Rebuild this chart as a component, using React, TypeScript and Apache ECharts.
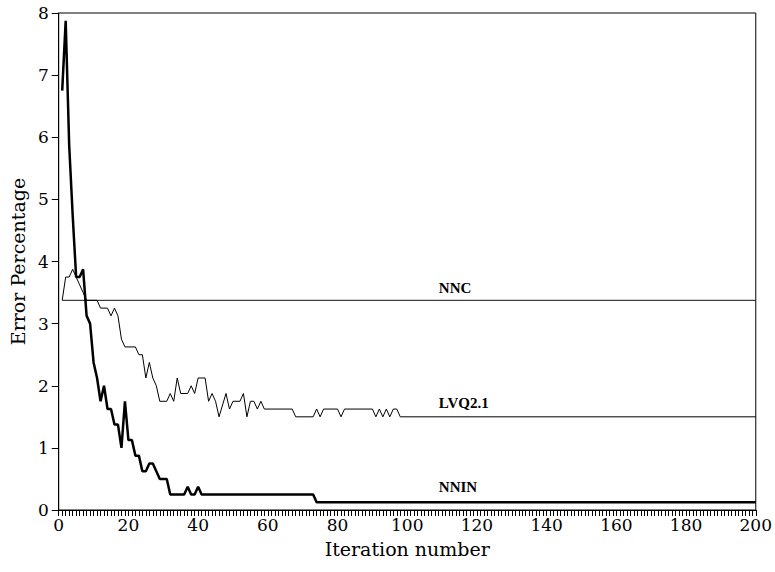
import React, { useEffect, useRef } from "react";
import * as echarts from "echarts";

// Vertices of each curve (iteration number, error percentage)
const nncIter = [1, 200];
const nncErr = [3.375, 3.375];

const lvqIter = [
  1, 2, 3, 4, 5, 6, 7, 8, 11, 12, 14, 15, 16, 17, 18, 19, 22, 23, 24, 25, 26, 27, 28, 29, 31, 32, 33, 34, 35,
  37, 38, 39, 40, 42, 43, 44, 45, 46, 48, 49, 50, 52, 53, 54, 55, 56, 57, 58, 59, 67, 68, 73, 74, 75, 76, 80,
  81, 82, 90, 91, 92, 93, 94, 95, 96, 97, 98, 200,
];
const lvqErr = [
  3.375, 3.75, 3.75, 3.875, 3.75, 3.625, 3.5, 3.375, 3.375, 3.25, 3.25, 3.125, 3.25, 3.125, 2.75, 2.625, 2.625,
  2.5, 2.5, 2.125, 2.375, 2.125, 2.0, 1.75, 1.75, 1.875, 1.75, 2.125, 1.875, 1.875, 2.0, 1.875, 2.125, 2.125,
  1.75, 1.875, 1.75, 1.5, 1.875, 1.625, 1.75, 1.75, 1.875, 1.5, 1.75, 1.75, 1.625, 1.75, 1.625, 1.625, 1.5,
  1.5, 1.625, 1.5, 1.625, 1.625, 1.5, 1.625, 1.625, 1.5, 1.625, 1.5, 1.625, 1.5, 1.625, 1.625, 1.5, 1.5,
];

const nninIter = [
  1, 2, 3, 4, 5, 6, 7, 8, 9, 10, 11, 12, 13, 14, 15, 16, 17, 18, 19, 20, 21, 22, 23, 24, 25, 26, 27, 28, 29,
  31, 32, 36, 37, 38, 39, 40, 41, 73, 74, 200,
];
const nninErr = [
  6.75, 7.875, 5.875, 4.75, 3.75, 3.75, 3.875, 3.125, 3.0, 2.375, 2.125, 1.75, 2.0, 1.625, 1.625, 1.375, 1.375,
  1.0, 1.75, 1.125, 1.125, 0.875, 0.875, 0.625, 0.625, 0.75, 0.75, 0.625, 0.5, 0.5, 0.25, 0.25, 0.375, 0.25,
  0.25, 0.375, 0.25, 0.25, 0.125, 0.125,
];

const seriesNames = ["NNC", "LVQ2.1", "NNIN"];
const labelIter = 109.2;

const xTitle = "Iteration number";
const yTitle = "Error Percentage";

const pairs = (xs: number[], ys: number[]) => xs.map((x, i) => [x, ys[i]]);

export default function App() {
  const ref = useRef<HTMLDivElement>(null);
  useEffect(() => {
    if (!ref.current) return;
    const chart = echarts.init(ref.current, undefined, { renderer: "svg" });
    const axisFont = { fontFamily: "DejaVu Serif", color: "#000" };
    const mk = (name: string, y: number, dy: number) => ({
      silent: true,
      animation: false,
      data: [
        {
          coord: [labelIter, y],
          symbol: "rect",
          symbolSize: 1,
          itemStyle: { color: "rgba(0,0,0,0)" },
          label: {
            show: true,
            position: [0, dy],
            formatter: name,
            color: "#000",
            fontFamily: "Liberation Serif",
            fontWeight: "bold",
            fontSize: 15,
          },
        },
      ],
    });
    chart.setOption({
      animation: false,
      backgroundColor: "#fff",
      grid: {
        left: 58,
        right: 18,
        top: 13,
        bottom: 62,
        show: true,
        borderColor: "#000",
        borderWidth: 1,
      },
      xAxis: {
        type: "value",
        min: 0,
        max: 200,
        interval: 20,
        name: xTitle,
        nameLocation: "middle",
        nameGap: 29,
        nameTextStyle: { ...axisFont, fontSize: 19 },
        axisLine: { show: true, onZero: false, lineStyle: { color: "#000", width: 1 } },
        axisTick: { show: true, inside: false, length: 6, lineStyle: { color: "#000" } },
        minorTick: { show: true, splitNumber: 20, length: 6, lineStyle: { color: "#000" } },
        axisLabel: { ...axisFont, fontSize: 17, margin: 6 },
        splitLine: { show: false },
        minorSplitLine: { show: false },
      },
      yAxis: {
        type: "value",
        min: 0,
        max: 8,
        interval: 1,
        name: yTitle,
        nameLocation: "middle",
        nameGap: 31,
        nameRotate: 90,
        nameTextStyle: { ...axisFont, fontSize: 19 },
        axisLine: { show: true, onZero: false, lineStyle: { color: "#000", width: 1 } },
        axisTick: { show: true, inside: false, length: 7, lineStyle: { color: "#000" } },
        axisLabel: { ...axisFont, fontSize: 17, margin: 10 },
        splitLine: { show: false },
      },
      series: [
        {
          name: seriesNames[0],
          type: "line",
          data: pairs(nncIter, nncErr),
          symbol: "none",
          lineStyle: { color: "#111", width: 1 },
          markPoint: mk(seriesNames[0], nncErr[0], -19),
        },
        {
          name: seriesNames[1],
          type: "line",
          data: pairs(lvqIter, lvqErr),
          symbol: "none",
          lineStyle: { color: "#000", width: 1 },
          markPoint: mk(seriesNames[1], lvqErr[lvqErr.length - 1], -21),
        },
        {
          name: seriesNames[2],
          type: "line",
          data: pairs(nninIter, nninErr),
          symbol: "none",
          lineStyle: { color: "#000", width: 2.5 },
          markPoint: mk(seriesNames[2], nninErr[nninErr.length - 1], -22),
        },
      ],
    });
    return () => chart.dispose();
  }, []);
  return (
    <div
      ref={ref}
      style={{ position: "fixed", left: 0, top: 0, width: 775, height: 572, background: "#fff" }}
    />
  );
}
